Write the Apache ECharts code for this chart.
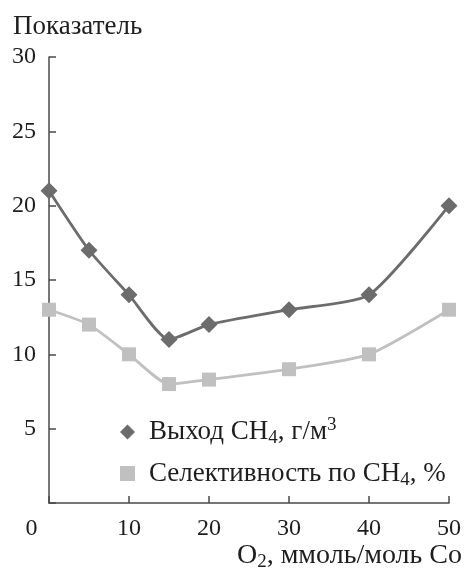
<!DOCTYPE html>
<html>
<head>
<meta charset="utf-8">
<script src="https://cdn.jsdelivr.net/npm/echarts@6/dist/echarts.min.js"></script>
<style>
  html, body { margin: 0; padding: 0; background: #fff; }
  #chart { width: 464px; height: 570px; }
</style>
</head>
<body>
<div id="chart"></div>
<script>
// O2 dose, mmol per mol Co
const o2 = [0, 5, 10, 15, 20, 30, 40, 50];
// CH4 yield, g/m3
const yieldCH4 = [21, 17, 14, 11, 12, 13, 14, 20];
// CH4 selectivity, %
const selectCH4 = [13, 12, 10, 8, 8.3, 9, 10, 13];

const xTicks = [0, 10, 20, 30, 40, 50];
const yTicks = [0, 5, 10, 15, 20, 25, 30];

const seriesNames = ['Выход CH4, г/м3', 'Селективность по CH4, %'];
const legendText = {
  'Выход CH4, г/м3': 'Выход CH{sub|4}, г/м{sup|3}',
  'Селективность по CH4, %': 'Селективность по CH{sub|4}, %'
};

const FONT = 'Liberation Serif';
const FS_WORD = 27;   // captions and legend
const FS_NUM = 24;    // tick labels
const INK = '#1e1e1e';
const AXIS = '#4a4a4a';
const DARK = '#6c6c6c';
const LIGHT = '#c0c0c0';

const richScripts = {
  sub: { fontSize: 19, fontFamily: FONT, color: INK, padding: [13, 0, 0, 0] },
  sup: { fontSize: 19, fontFamily: FONT, color: INK, padding: [0, 0, 13, 0] }
};

const chart = echarts.init(document.getElementById('chart'), null, { renderer: 'canvas' });

chart.setOption({
  animation: false,
  backgroundColor: '#fff',
  title: {
    text: 'Показатель',
    left: 8, top: 8,
    textStyle: { fontFamily: FONT, fontSize: FS_WORD, fontWeight: 'normal', color: INK }
  },
  grid: { left: 49, right: 13, top: 57, bottom: 67, containLabel: false },
  xAxis: {
    type: 'value',
    min: xTicks[0], max: xTicks[xTicks.length - 1], interval: 10,
    axisLine: { lineStyle: { color: AXIS, width: 1.5 } },
    axisTick: { inside: true, length: 7, lineStyle: { color: AXIS, width: 1.5 } },
    splitLine: { show: false },
    axisLabel: {
      margin: 14,
      fontFamily: FONT, fontSize: FS_NUM, color: INK,
      formatter: v => v === 0 ? '{z|0}' : String(v),
      rich: { z: { fontFamily: FONT, fontSize: FS_NUM, color: INK, padding: [0, 35, 0, 0] } }
    }
  },
  yAxis: {
    type: 'value',
    min: yTicks[0], max: yTicks[yTicks.length - 1], interval: 5,
    axisLine: { show: true, lineStyle: { color: AXIS, width: 1.5 } },
    axisTick: { show: true, inside: true, length: 7, lineStyle: { color: AXIS, width: 1.5 } },
    splitLine: { show: false },
    axisLabel: {
      margin: 13,
      fontFamily: FONT, fontSize: FS_NUM, color: INK,
      formatter: v => v === 0 ? '' : String(v)
    }
  },
  legend: {
    orient: 'vertical',
    left: 115, top: 411,
    itemGap: 12,
    itemWidth: 15, itemHeight: 15,
    data: [
      { name: seriesNames[0], icon: 'diamond' },
      { name: seriesNames[1], icon: 'rect' }
    ],
    formatter: name => legendText[name],
    textStyle: {
      fontFamily: FONT, fontSize: FS_WORD, color: INK,
      padding: [0, 0, 0, 9],
      rich: richScripts
    }
  },
  graphic: [{
    type: 'text',
    right: 2, top: 542,
    style: {
      text: 'O{sub|2}, ммоль/моль Co',
      fontFamily: FONT, fontSize: 28, fill: INK,
      rich: richScripts
    }
  }],
  series: [
    {
      name: seriesNames[0],
      type: 'line',
      data: o2.map((x, i) => [x, yieldCH4[i]]),
      smooth: 0.2,
      symbol: 'diamond', symbolSize: 17,
      lineStyle: { color: DARK, width: 2.8 },
      itemStyle: { color: DARK },
      z: 3
    },
    {
      name: seriesNames[1],
      type: 'line',
      data: o2.map((x, i) => [x, selectCH4[i]]),
      smooth: 0.2,
      symbol: 'rect', symbolSize: 14,
      lineStyle: { color: LIGHT, width: 2.8 },
      itemStyle: { color: LIGHT },
      z: 2
    }
  ]
});
</script>
</body>
</html>
